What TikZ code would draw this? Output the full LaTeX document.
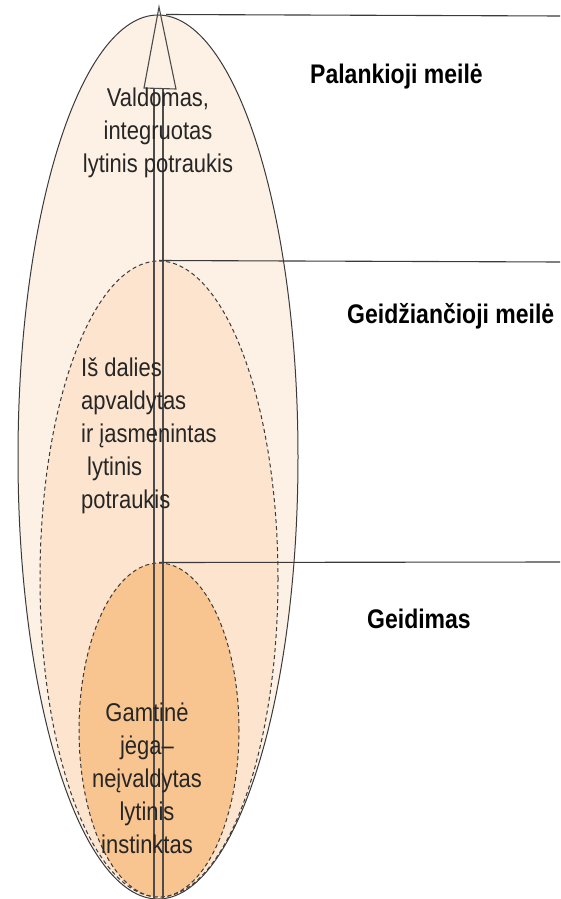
\documentclass[tikz,border=0pt]{standalone}
\usepackage{fontspec}
\usepackage{xcolor}
\usepackage{tikz}
\usetikzlibrary{shapes.geometric,positioning,calc}
\newfontfamily\lblfont[FakeStretch=0.855]{Liberation Sans}
\definecolor{outerfill}{HTML}{FDF0E4}
\definecolor{midfill}{HTML}{FCE4CE}
\definecolor{corefill}{HTML}{F8C48F}
\definecolor{linegray}{HTML}{3A3A3A}

\begin{document}
\begin{tikzpicture}[
    x=1pt, y=-1pt,
    zone/.style={ellipse, draw=linegray, line width=1pt, inner sep=0pt},
    dzone/.style={zone, dash pattern=on 4pt off 3pt},
    shaft/.style={draw=black!70, line width=1.1pt},
    rule/.style={draw=linegray, line width=1.1pt},
    txt/.style={font=\lblfont\fontsize{25.7}{33}\selectfont, inner sep=0pt, text=black!85},
    lvl/.style={font=\lblfont\bfseries\fontsize{26.9}{32}\selectfont, inner sep=0pt, text=black}
]
    \useasboundingbox (0,0) rectangle (560,899);

    % Zones
    \node[zone, fill=outerfill, minimum width=280pt, minimum height=884pt] (outer) at (158,457) {};
    \node[dzone, fill=midfill, minimum width=238pt, minimum height=636pt] (mid) at (159,579) {};
    \node[dzone, fill=corefill, minimum width=160pt, minimum height=334pt] (core) at (159,730) {};

    % Arrow up the middle
    \draw[shaft] (154,899) -- (154,88);
    \draw[shaft] (163,88) -- (163,899);
    \draw[shaft] (144,88) -- (159,7) -- (176,89) -- cycle;

    % Level lines
    \coordinate (r1) at (560,16);
    \coordinate (r2) at (560,262);
    \coordinate (r3) at (560,562);
    \draw[rule] (outer.north -| 166,0) -- (r1);
    \draw[rule] (mid.north) -- (r2);
    \draw[rule] (core.north) -- (r3);

    % Texts in the zones
    \node[txt, align=center] (t1) at (158,133) {Valdomas,\\integruotas\\lytinis potraukis};
    \node[txt, align=left, anchor=west] (t2) at (81,436) {Iš dalies\\apvaldytas\\ir įasmenintas\\\hspace*{6pt}lytinis\\potraukis};
    \node[txt, align=center] (t3) at (147,778) {Gamtinė\\jėga–\\neįvaldytas\\lytinis\\instinktas};

    % Level names
    \node[lvl, anchor=base west] (l1) at (310,83) {Palankioji meilė};
    \node[lvl, anchor=base west] (l2) at (347,323) {Geidžiančioji meilė};
    \node[lvl, anchor=base west] (l3) at (367,628) {Geidimas};

\end{tikzpicture}
\end{document}
